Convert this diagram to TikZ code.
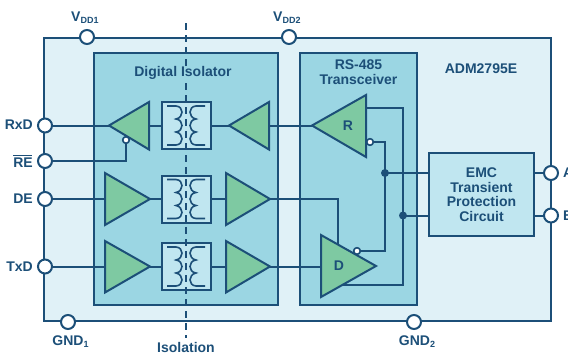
\documentclass[tikz,border=0pt]{standalone}
\usepackage{fontspec}
\setmainfont{Liberation Sans}
\definecolor{ln}{HTML}{1C4F78}
\definecolor{outerfill}{HTML}{E0F1F7}
\definecolor{boxfill}{HTML}{9BD6E3}
\definecolor{lightfill}{HTML}{C0E6F0}
\definecolor{gr}{HTML}{7EC9A2}
\newcommand{\sbs}[1]{\raisebox{-2.5pt}{\fontsize{9}{9}\selectfont #1}}
\tikzset{
  x=1pt,y=-1pt,
  wire/.style={draw=ln,line width=2pt},
  pin/.style={circle,draw=ln,line width=2pt,fill=white,inner sep=0pt,minimum size=14pt},
  bubble/.style={circle,draw=ln,line width=1.5pt,fill=white,inner sep=0pt,minimum size=6.5pt},
  dot/.style={circle,fill=ln,inner sep=0pt,minimum size=8pt},
  lab/.style={text=ln,font=\bfseries\fontsize{14}{14.5}\selectfont,inner sep=0pt,align=center},
  block/.style={draw=ln,line width=2pt,fill=boxfill,inner sep=0pt},
  tri/.style={draw=ln,line width=2pt,fill=gr,line join=miter},
  xfmr/.style={draw=ln,line width=2pt,fill=lightfill,inner sep=0pt,minimum width=49pt,minimum height=47pt},
  coil/.style={draw=ln,line width=1.6pt},
  pics/windings/.style={code={
    \path[coil] (-19,-19.5) -- (-10,-19.5) .. controls (-2,-19) and (-2,-8) .. (-10,-6.5)
      .. controls (-2,-5.5) and (-2,5.5) .. (-10,6.5) .. controls (-2,8) and (-2,19) .. (-10,19.5) -- (-19,19.5);
    \path[coil] (19,-19.5) -- (10,-19.5) .. controls (2,-19) and (2,-8) .. (10,-6.5)
      .. controls (2,-5.5) and (2,5.5) .. (10,6.5) .. controls (2,8) and (2,19) .. (10,19.5) -- (19,19.5);
  }}
}
\begin{document}
\begin{tikzpicture}
\useasboundingbox (0,0) rectangle (568,354);
% package
\node[draw=ln,line width=2pt,fill=outerfill,minimum width=507pt,minimum height=283pt,inner sep=0pt] (pkg) at (297.5,179.5) {};
\node[block,minimum width=184pt,minimum height=252pt] (iso) at (186,179) {};
\node[block,minimum width=117pt,minimum height=252pt] (xcvr) at (358.5,179) {};
\node[draw=ln,line width=2pt,fill=lightfill,minimum width=105pt,minimum height=83pt,inner sep=0pt] (emc) at (481.5,194.5) {};
% anchors
\coordinate (rxTipA) at (109,125.5); \coordinate (rxBaseA) at (149,125.5);
\coordinate (rxTipB) at (229,125.5); \coordinate (rxBaseB) at (269,125.5);
\coordinate (deBaseA) at (105,199); \coordinate (deTipA) at (150,199);
\coordinate (deBaseB) at (226,199); \coordinate (deTipB) at (270,199);
\coordinate (txBaseA) at (105,266.5); \coordinate (txTipA) at (150,266.5);
\coordinate (txBaseB) at (226,266.5); \coordinate (txTipB) at (270,266.5);
\coordinate (rTip) at (312,125.5); \coordinate (rOut) at (366,108);
\coordinate (dBase) at (321,266.5); \coordinate (dOut) at (341,285);
\coordinate (dEn) at (338,244);
% pins
\node[pin] (vdda) at (87,37) {};
\node[pin] (vddb) at (289,37) {};
\node[pin] (rxd) at (45,125.5) {};
\node[pin] (re) at (45,161) {};
\node[pin] (de) at (45,199) {};
\node[pin] (txd) at (45,266.5) {};
\node[pin] (gnda) at (68,322) {};
\node[pin] (gndb) at (414,322) {};
\node[pin] (pa) at (551,173) {};
\node[pin] (pb) at (551,215.5) {};
% transformers
\node[xfmr] (ta) at (186,125.5) {};
\node[xfmr] (tb) at (186,199) {};
\node[xfmr] (tc) at (186,266.5) {};
% isolation barrier
\coordinate (isoTop) at (186,23);
\coordinate (isoBot) at (186,338);
\draw[draw=ln,line width=2pt,dash pattern=on 7pt off 5pt] (isoTop) -- (isoBot);
\node[lab,fill=boxfill] (isotitle) at (183,72.5) {Digital Isolator};
% wires
\coordinate (dotA) at (385,173);
\coordinate (dotB) at (403,215.5);
\node[bubble] (bubRx) at (126,140) {};
\node[bubble] (bubR) at (370,142) {};
\node[bubble] (bubD) at (357,251) {};
\draw[wire] (rxd) -- (rxTipA);
\draw[wire] (rxBaseA) -- (ta);
\draw[wire] (ta) -- (rxTipB);
\draw[wire] (rxBaseB) -- (rTip);
\draw[wire] (re) -| (bubRx);
\draw[wire] (de) -- (deBaseA);
\draw[wire] (deTipA) -- (tb);
\draw[wire] (tb) -- (deBaseB);
\draw[wire] (deTipB) -| (dEn);
\draw[wire] (txd) -- (txBaseA);
\draw[wire] (txTipA) -- (tc);
\draw[wire] (tc) -- (txBaseB);
\draw[wire] (txTipB) -- (dBase);
\draw[wire] (rOut) -| (dotB) |- (dOut);
\draw[wire] (bubR) -| (dotA);
\draw[wire] (dotA) |- (bubD);
\draw[wire] (dotA) -- (emc.west |- dotA);
\draw[wire] (dotB) -- (emc.west |- dotB);
\draw[wire] (emc.east |- pa) -- (pa);
\draw[wire] (emc.east |- pb) -- (pb);
% amplifiers
\draw[tri] (rxTipA) -- (149,102) -- (149,149.5) -- cycle;
\draw[tri] (rxTipB) -- (269,102) -- (269,149.5) -- cycle;
\draw[tri] (deTipA) -- (105,173) -- (105,225) -- cycle;
\draw[tri] (deTipB) -- (226,173) -- (226,225) -- cycle;
\draw[tri] (txTipA) -- (105,241) -- (105,292.5) -- cycle;
\draw[tri] (txTipB) -- (226,241) -- (226,292.5) -- cycle;
\draw[tri] (rTip) -- (366,95) -- (366,157) -- cycle;
\draw[tri] (321,235) -- (376,266) -- (321,297) -- cycle;
\node[bubble] at (bubRx) {};
\node[bubble] at (bubR) {};
\node[bubble] at (bubD) {};
\node[dot] (jA) at (dotA) {};
\node[dot] (jB) at (dotB) {};
% windings
\pic at (ta) {windings};
\pic at (tb) {windings};
\pic at (tc) {windings};
% labels
\node[lab] (rlab) at (348,126) {R};
\node[lab] (dlab) at (339,266) {D};
\node[lab,anchor=east] (lrxd) at (33,125) {RxD};
\node[lab,anchor=east] (lre) at (33,161) {\rlap{\rule[11pt]{18.5pt}{1.3pt}}RE};
\node[lab,anchor=east] (lde) at (33,199) {DE};
\node[lab,anchor=east] (ltxd) at (33,267) {TxD};
\node[lab,anchor=base west] (lvdda) at (71,21) {V\sbs{DD1}};
\node[lab,anchor=base west] (lvddb) at (273,21) {V\sbs{DD2}};
\node[lab,anchor=base] (lgnda) at (70.5,345) {GND\sbs{1}};
\node[lab,anchor=base] (lgndb) at (417,345) {GND\sbs{2}};
\node[lab,anchor=base] (liso) at (186,352) {Isolation};
\node[lab] (ltx) at (358.5,72) {RS-485\\Transceiver};
\node[lab] (ladm) at (481,69) {ADM2795E};
\node[lab] at (481.5,194.5) {EMC\\Transient\\Protection\\Circuit};
\node[lab,anchor=west] (la) at (563,173) {A};
\node[lab,anchor=west] (lb) at (563,215.5) {B};
\end{tikzpicture}
\end{document}
